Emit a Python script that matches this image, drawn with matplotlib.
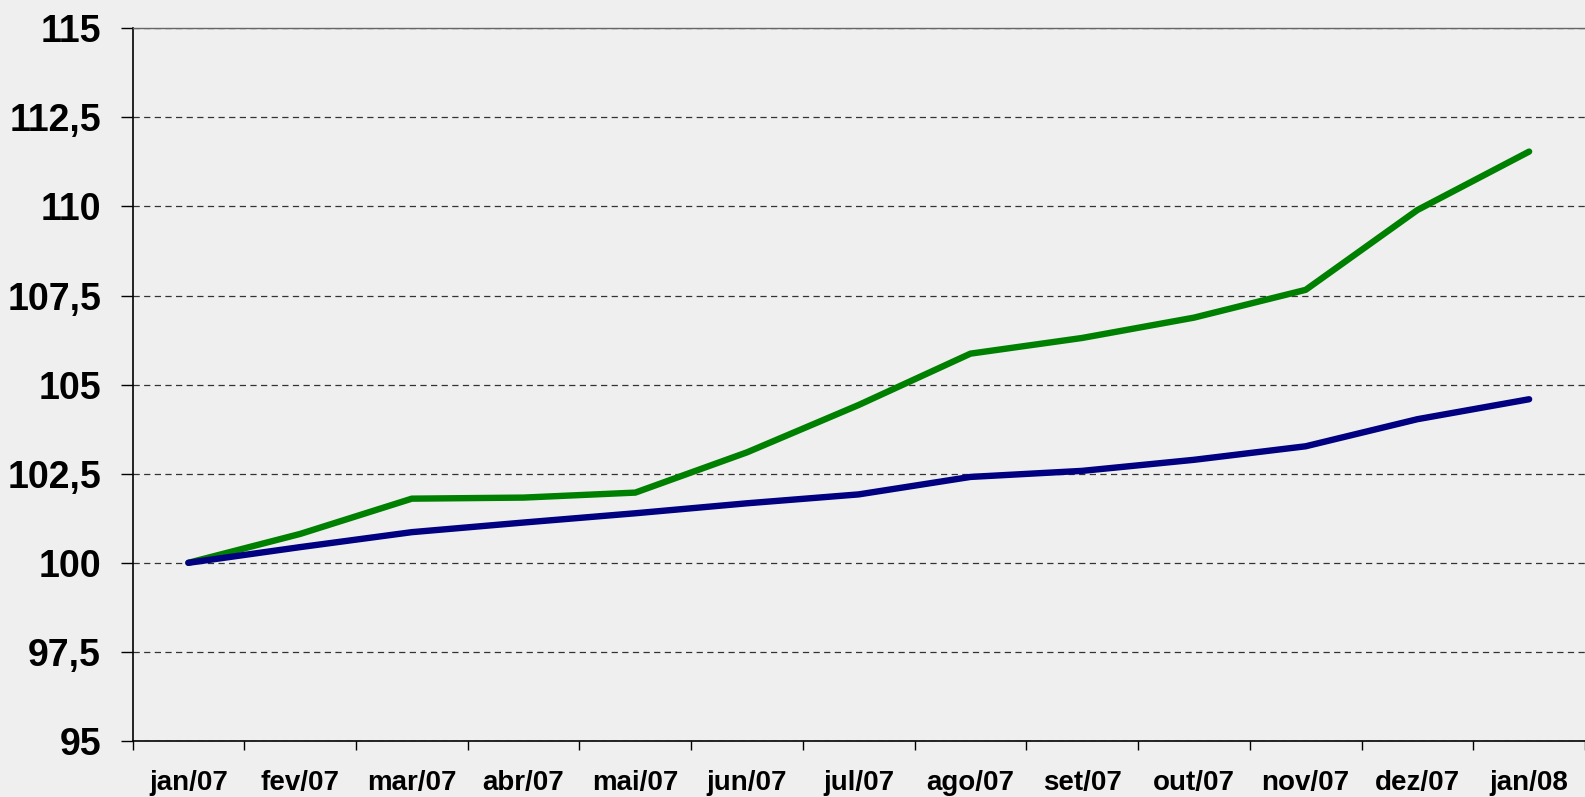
import matplotlib.pyplot as plt
import numpy as np

plt.rcParams['font.family'] = ['Liberation Sans', 'DejaVu Sans']

# dados
meses = ['jan/07', 'fev/07', 'mar/07', 'abr/07', 'mai/07', 'jun/07', 'jul/07',
         'ago/07', 'set/07', 'out/07', 'nov/07', 'dez/07', 'jan/08']
serie_verde = [100.0, 100.81, 101.8, 101.83, 101.97, 103.1, 104.43,
               105.87, 106.31, 106.88, 107.66, 109.9, 111.54]
serie_azul = [100.0, 100.44, 100.86, 101.13, 101.39, 101.67, 101.92,
              102.41, 102.58, 102.89, 103.27, 104.03, 104.59]
y_ticks = [95, 97.5, 100, 102.5, 105, 107.5, 110, 112.5, 115]
y_labels = ['95', '97,5', '100', '102,5', '105', '107,5', '110', '112,5', '115']

fundo = '#efefef'
fig = plt.figure(figsize=(15.85, 7.97), dpi=100, facecolor=fundo)
ax = fig.add_axes([0.0836, 0.0703, 0.9164, 0.8942])
ax.set_facecolor(fundo)

x = np.arange(len(meses))
ax.plot(x, serie_verde, color='#008000', linewidth=4.6, solid_capstyle='round', zorder=3)
ax.plot(x, serie_azul, color='#000080', linewidth=4.6, solid_capstyle='round', zorder=3)

ax.set_ylim(95, 115)
ax.set_xlim(-0.5, 12.446)
ax.set_yticks(y_ticks)
ax.set_yticklabels(y_labels, fontsize=27, fontweight='bold')
ax.set_xticks(x)
ax.set_xticklabels(meses, fontsize=20, fontweight='bold')
ax.set_xticks(np.arange(len(meses) + 1) - 0.5, minor=True)

ax.tick_params(axis='y', direction='out', length=8.6, width=1, pad=14, colors='black')
ax.tick_params(axis='x', which='major', length=0, pad=21)
ax.tick_params(axis='x', which='minor', direction='out', length=6.5, width=1)

ax.grid(True, axis='y', linestyle=(0, (5, 3.5)), color='#333333', linewidth=0.9)
ax.set_axisbelow(True)

ax.spines['left'].set_linewidth(1.2)
ax.spines['bottom'].set_linewidth(1.2)
ax.spines['top'].set_color('#666666')
ax.spines['top'].set_linewidth(1)
ax.spines['right'].set_visible(False)

fig.savefig('out.png', dpi=100, facecolor=fundo)
